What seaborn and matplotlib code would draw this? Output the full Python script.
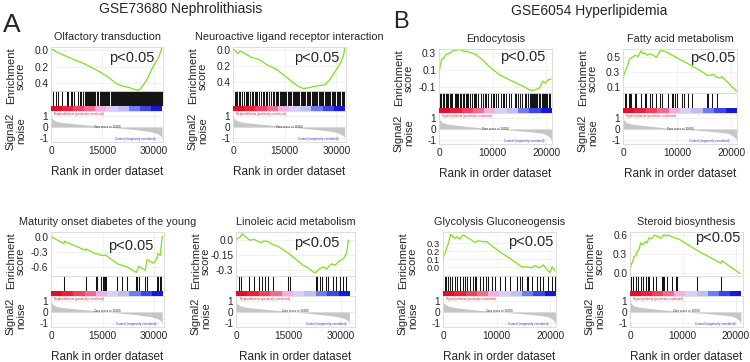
import numpy as np
import matplotlib
matplotlib.use("Agg")
import matplotlib.pyplot as plt
import seaborn as sns
from matplotlib.colors import ListedColormap

# ---------------- data ----------------
# number of genes in each ranked list
n_genes_a = 32400
n_genes_b = 21000

# ranked list metric (signal2noise) outline
metric_rank_a = [0, 300, 700, 1500, 3000, 6000, 10000, 15000, 16000, 20000, 25000, 29000, 31000, 32000, 32400]
metric_val_a = [1.0, 0.8, 0.65, 0.52, 0.42, 0.32, 0.2, 0.05, 0.0, -0.1, -0.25, -0.42, -0.6, -0.8, -1.0]
metric_rank_b = [0, 200, 500, 1000, 2000, 4000, 7000, 10400, 14000, 17000, 19500, 20300, 20800, 21000]
metric_val_b = [1.0, 0.8, 0.65, 0.52, 0.42, 0.3, 0.15, 0.0, -0.12, -0.25, -0.4, -0.6, -0.85, -1.0]

# Olfactory transduction (GSE73680)
olf_rank = [0, 2000, 4550, 7000, 9400, 11800, 14250, 16700, 19100, 21000, 23000, 25000, 26000, 27900, 29800, 31500, 32400]
olf_es = [0.02, -0.03, -0.076, -0.12, -0.16, -0.21, -0.265, -0.33, -0.41, -0.44, -0.46, -0.49, -0.48, -0.37, -0.2, -0.08, 0.03]
olf_hits = [675, 1350, 1930, 3280, 4530, 5010, 5780, 6170, 6750, 7900, 8390, 8870, 9350, 9830,
            10300, 10600, 10800, 11200, 11500, 11700, 12100, 12400, 12600, 12900, 13300, 13500, 13800,
            14200, 14400, 14700, 15000, 15300, 15500, 15900, 16200, 16400, 16700, 17000, 17400, 17600,
            17900, 18200, 18500, 18800, 19000, 19300, 19700, 19900, 20200, 20500, 20800, 21100, 21300,
            21600, 21900, 22200, 22500, 22700, 23000, 23300, 23600, 23900, 24100, 24400, 24700, 25000,
            25300, 25500, 25800, 26100, 26400, 26700, 26900, 27200, 27500, 27800, 28100, 28300, 28600,
            28900, 29200, 29500, 29700, 30000, 30300, 30600, 30900, 31100, 31400, 31700, 32000, 32300]

# Neuroactive ligand receptor interaction (GSE73680)
neu_rank = [0, 970, 1460, 2140, 3410, 5360, 7790, 9740, 12660, 15580, 18500, 20450, 21910, 22890,
            23860, 25330, 26790, 28250, 29710, 31170, 32140, 32400]
neu_es = [0.02, -0.02, -0.04, -0.01, -0.04, -0.09, -0.12, -0.18, -0.24, -0.34, -0.44, -0.48, -0.47,
          -0.46, -0.45, -0.44, -0.43, -0.36, -0.26, -0.16, -0.06, 0.02]
neu_hits = [490, 980, 1270, 1760, 2160, 2740, 3140, 3630, 3920, 4410, 4900, 5390, 5680, 6370, 6660,
            7060, 7640, 8130, 8620, 9020, 9600, 10000, 10580, 11070, 11560, 11960, 12450,
            12800, 13100, 13500, 13800, 14200, 14500, 14800, 15200, 15500, 15900, 16200, 16600, 16900,
            17300, 17600, 17900, 18300, 18600, 19000, 19300, 19700, 20000, 20300, 20700, 21000, 21400,
            21700, 22100, 22400, 22800, 23100, 23500, 23800, 24200, 24500, 24900, 25200, 25500, 25900,
            26200, 26600, 26900, 27300, 27600, 28000, 28300, 28700, 29000, 29400, 29700, 30100, 30400,
            30800, 31100, 31500, 31800, 32200]

# Maturity onset diabetes of the young (GSE73680)
mod_rank = [0, 3800, 3900, 10100, 10200, 13000, 13500, 14600, 15900, 19300, 20500, 22000, 24850,
            25600, 27400, 28000, 29800, 30800, 31100, 31800, 32100, 32400]
mod_es = [0.0, -0.14, -0.09, -0.27, -0.24, -0.34, -0.33, -0.37, -0.36, -0.53, -0.56, -0.59, -0.70,
          -0.58, -0.66, -0.45, -0.52, -0.44, -0.33, -0.37, -0.18, 0.0]
mod_hits = [3860, 10130, 13020, 13500, 14660, 15140, 15430, 15720, 15910, 19290, 20540, 21990,
            24880, 25170, 25560, 27490, 27970, 30860, 31150, 31830, 32110]

# Linoleic acid metabolism (GSE73680)
lin_rank = [0, 480, 1200, 1730, 2500, 3800, 4310, 5270, 6000, 7190, 8150, 9100, 10540, 11980, 15340,
            19170, 20130, 22520, 23960, 24920, 25880, 27320, 28270, 29710, 30670, 31150, 31630, 32110]
lin_es = [-0.01, 0.016, 0.03, 0.063, 0.04, 0.0, 0.0, 0.006, -0.01, -0.025, -0.01, -0.016, -0.047,
          -0.063, -0.142, -0.253, -0.269, -0.33, -0.285, -0.269, -0.29, -0.237, -0.253, -0.205,
          -0.19, -0.158, -0.126, 0.0]
lin_hits = [960, 1440, 3830, 5270, 6710, 7480, 8150, 9100, 10540, 14860, 15340, 22810, 23190, 23960,
            24440, 25690, 26360, 27800, 28560, 29710, 30670, 31440]

# Endocytosis (GSE6054)
endo_rank = [0, 60, 250, 500, 940, 1250, 1875, 2500, 3750, 4690, 5625, 6875, 8125, 9375, 11250,
             13125, 15000, 16250, 17190, 18125, 18750, 19375, 19875, 20300, 20940]
endo_es = [0.025, 0.084, 0.16, 0.22, 0.24, 0.28, 0.29, 0.32, 0.34, 0.32, 0.31, 0.28, 0.22, 0.14,
           0.045, -0.014, -0.07, -0.11, -0.14, -0.13, -0.11, -0.033, -0.053, -0.02, -0.006]
endo_hits = [190, 440, 820, 1000, 1260, 1500, 1700, 2080, 2300, 2520, 2960, 3100, 3340, 3590, 3970,
             4200, 4410, 4730, 5040, 5300, 5480, 5860, 6110, 6490, 6700, 6930, 7250, 7880, 8190,
             8500, 8820, 9140, 9770, 10000, 10270, 10710, 11030, 11530, 11970, 12200, 12600, 13040,
             13420, 14180, 14400, 14680, 15120, 15560, 16070, 16300, 16570, 17010, 17150, 17330,
             17640, 17800, 17960, 18100, 18270, 18590, 18750, 18900, 19220, 19400, 19530, 19850,
             20000, 20160, 20480, 20650, 20790]

# Fatty acid metabolism (GSE6054)
fat_rank = [0, 190, 510, 830, 1140, 1460, 1900, 2290, 2730, 3050, 3370, 3680, 4000, 4450, 4950,
            5590, 6220, 6540, 6860, 7490, 8130, 13840, 15750, 16700, 17340, 17970, 18290, 21000]
fat_es = [0.21, 0.27, 0.33, 0.38, 0.47, 0.49, 0.51, 0.53, 0.51, 0.55, 0.59, 0.55, 0.56, 0.53, 0.55,
          0.53, 0.50, 0.55, 0.59, 0.59, 0.57, 0.34, 0.25, 0.27, 0.23, 0.22, 0.24, 0.04]
fat_hits = [310, 620, 1050, 1360, 1550, 2170, 2480, 3410, 4030, 4340, 4960, 5460, 6200, 6820, 7130,
            8370, 8990, 9180, 9610, 9920, 10850, 11280, 12090, 12710, 15500, 15810, 16430, 17360]

# Glycolysis Gluconeogensis (GSE6054)
gly_rank = [0, 125, 440, 750, 1060, 1440, 1875, 2250, 2625, 3125, 3500, 3875, 4500, 5310, 5940,
            6560, 7500, 8125, 9060, 10625, 12500, 13750, 14690, 15625, 16560, 17190, 18000, 18750,
            19375, 20000, 20375, 20940]
gly_es = [0.05, 0.14, 0.19, 0.25, 0.31, 0.41, 0.38, 0.36, 0.38, 0.35, 0.39, 0.40, 0.37, 0.34, 0.31,
          0.33, 0.32, 0.32, 0.27, 0.19, 0.11, 0.05, 0.004, 0.004, -0.008, 0.02, -0.008, 0.028,
          -0.028, -0.068, 0.004, -0.048]
gly_hits = [310, 625, 940, 1375, 1750, 2190, 2625, 3125, 3750, 4125, 4560, 5000, 5625, 5940, 6250,
            6875, 7500, 8000, 8440, 9060, 9690, 10625, 11560, 12500, 13750, 14375, 14690, 15625,
            15940, 16560, 17500, 18125, 18750, 19690, 20310, 20940]

# Steroid biosynthesis (GSE6054)
ste_rank = [0, 185, 490, 740, 1110, 1350, 1720, 2030, 2460, 2950, 3260, 3570, 4000, 4610, 5230,
            5840, 6460, 6770, 7380, 8300, 9230, 12920, 17220, 17400, 20790]
ste_es = [0.0, 0.12, 0.17, 0.25, 0.27, 0.34, 0.37, 0.47, 0.44, 0.49, 0.47, 0.55, 0.53, 0.59, 0.57,
          0.54, 0.60, 0.58, 0.59, 0.55, 0.53, 0.34, 0.15, 0.19, -0.01]
ste_hits = [185, 615, 1110, 1600, 2030, 2460, 2950, 3380, 3570, 4430, 4920, 6150, 6280, 6460, 7080,
            8000, 8620, 8920, 12620, 17230]

# ---------------- styling ----------------
W, H = 750, 362
GREEN = "#7de11c"
BAR_COLORS = ["#dc0f2c", "#e8223d", "#ee4263", "#f06b90", "#f2aee2",
              "#d8d0f5", "#bcc0f2", "#6f7cf0", "#3a46e6", "#1818da"]

sns.set_theme(style="white")
plt.rcParams["font.family"] = ["Liberation Sans", "DejaVu Sans"]

fig = plt.figure(figsize=(W / 100, H / 100), dpi=100)


def px_axes(x0, y0, w, h):
    return fig.add_axes([x0 / W, 1 - (y0 + h) / H, w / W, h / H])


def light_frame(ax):
    for s in ax.spines.values():
        s.set_color("#d8d8d8")
        s.set_linewidth(0.6)
    ax.tick_params(length=0, pad=2, labelsize=7.3)


def draw_gsea(x0, x1, ytop, title, es_rank, es_val, hits, m_rank, m_val, n_genes, xmax,
              xticks, es_ticks, es_labels, es_ylim, p_xy, pos_name, es_fs=7.3):
    w = x1 - x0
    h_es, h_hit, h_bar, h_met = 44, 15, 5, 31

    # enrichment score
    ax = px_axes(x0, ytop, w, h_es)
    sns.lineplot(x=es_rank, y=es_val, ax=ax, color=GREEN, lw=0.9)
    ax.set_xlim(0, xmax)
    ax.set_ylim(*es_ylim)
    ax.set_xticks(xticks)
    ax.set_xticklabels([])
    ax.set_yticks(es_ticks)
    ax.set_yticklabels(es_labels)
    ax.grid(True, color="#ececec", lw=0.5)
    light_frame(ax)
    ax.tick_params(axis="y", labelsize=es_fs)
    ax.set_title(title, fontsize=7.8, pad=5)
    ax.text(p_xy[0], p_xy[1], "p<0.05", transform=ax.transAxes, fontsize=10.5,
            ha="center", va="center")

    # hits
    axh = px_axes(x0, ytop + h_es, w, h_hit)
    axh.vlines(hits, 0, 1, color="#151515", lw=0.75)
    axh.set_xlim(0, xmax)
    axh.set_ylim(0, 1)
    axh.set_xticks([])
    axh.set_yticks([])
    light_frame(axh)

    # rank colour bar
    axb = px_axes(x0, ytop + h_es + h_hit, w, h_bar)
    axb.imshow([np.arange(len(BAR_COLORS))], cmap=ListedColormap(BAR_COLORS),
               aspect="auto", extent=[0, n_genes, 0, 1])
    axb.set_xlim(0, xmax)
    axb.set_ylim(0, 1)
    axb.set_xticks([])
    axb.set_yticks([])
    for s in axb.spines.values():
        s.set_visible(False)

    # ranked list metric
    axm = px_axes(x0, ytop + h_es + h_hit + h_bar, w, h_met)
    axm.fill_between(m_rank, m_val, 0, color="#c3c8c6", lw=0)
    axm.set_xlim(0, xmax)
    axm.set_ylim(-1.36, 1.45)
    axm.set_yticks([1, 0, -1])
    axm.set_yticklabels(["1", "0", "-1"])
    axm.set_xticks(xticks)
    axm.set_xticklabels([str(t) for t in xticks])
    axm.grid(True, color="#ececec", lw=0.5)
    light_frame(axm)
    axm.tick_params(axis="x", labelsize=7.3, pad=3)
    axm.set_xlabel("Rank in order dataset", fontsize=8.5, labelpad=7)
    axm.text(0.03, 0.98, pos_name + " (positively correlated)", transform=axm.transAxes,
             fontsize=2.2, color="#e02040", va="top")
    axm.text(0.5, 0.5, "Zero cross at " + str(n_genes // 2), transform=axm.transAxes,
             fontsize=2.2, ha="center", va="center")
    axm.text(0.93, 0.1, "Control (negatively correlated)", transform=axm.transAxes,
             fontsize=2.2, color="#3040e0", ha="right", va="center")

    # side labels
    fig.text((x0 - 35) / W, 1 - (ytop + 29) / H, "Enrichment\nscore", rotation=90,
             ha="center", va="center", fontsize=8, linespacing=1.05)
    fig.text((x0 - 35) / W, 1 - (ytop + 84) / H, "Signal2\nnoise", rotation=90,
             ha="center", va="center", fontsize=8, linespacing=1.05)


ticks_a = [0, 15000, 30000]
ticks_b = [0, 10000, 20000]

draw_gsea(51, 163, 47, "Olfactory transduction", olf_rank, olf_es, olf_hits,
          metric_rank_a, metric_val_a, n_genes_a, 32700, ticks_a,
          [0, -0.2, -0.4], ["0.0", "0.2", "0.4"], (-0.5, 0.04), (0.72, 0.74), "Nephrolithiasis")
draw_gsea(233, 346, 47, "Neuroactive ligand receptor interaction", neu_rank, neu_es, neu_hits,
          metric_rank_a, metric_val_a, n_genes_a, 32800, ticks_a,
          [0, -0.2, -0.4], ["0.0", "0.2", "0.4"], (-0.51, 0.04), (0.74, 0.74), "Nephrolithiasis")
draw_gsea(51, 164, 232, "Maturity onset diabetes of the young", mod_rank, mod_es, mod_hits,
          metric_rank_a, metric_val_a, n_genes_a, 32900, ticks_a,
          [0, -0.3, -0.6], ["0.0", "-0.3", "-0.6"], (-0.77, 0.09), (0.71, 0.68), "Nephrolithiasis")
draw_gsea(236, 355, 232, "Linoleic acid metabolism", lin_rank, lin_es, lin_hits,
          metric_rank_a, metric_val_a, n_genes_a, 34000, ticks_a,
          [0, -0.15, -0.3], ["0.0", "-0.15", "-0.3"], (-0.36, 0.08), (0.68, 0.75), "Nephrolithiasis")

draw_gsea(439, 552, 49, "Endocytosis", endo_rank, endo_es, endo_hits,
          metric_rank_b, metric_val_b, n_genes_b, 21100, ticks_b,
          [0.3, 0.1, -0.1], ["0.3", "0.1", "-0.1"], (-0.17, 0.345), (0.74, 0.82), "Hyperlipidemia")
draw_gsea(623, 737, 49, "Fatty acid metabolism", fat_rank, fat_es, fat_hits,
          metric_rank_b, metric_val_b, n_genes_b, 21100, ticks_b,
          [0.5, 0.3, 0.1], ["0.5", "0.3", "0.1"], (0.015, 0.615), (0.79, 0.8), "Hyperlipidemia")
draw_gsea(443, 556, 232, "Glycolysis Gluconeogensis", gly_rank, gly_es, gly_hits,
          metric_rank_b, metric_val_b, n_genes_b, 21100, ticks_b,
          [0.3, 0.2, 0.1, 0.0], ["0.3", "0.2", "0.1", "0.0"], (-0.11, 0.44), (0.78, 0.78),
          "Hyperlipidemia", es_fs=6.8)
draw_gsea(630, 743, 232, "Steroid biosynthesis", ste_rank, ste_es, ste_hits,
          metric_rank_b, metric_val_b, n_genes_b, 21400, ticks_b,
          [0.6, 0.3, 0.0], ["0.6", "0.3", "0.0"], (-0.05, 0.64), (0.78, 0.86), "Hyperlipidemia")

# panel letters and headings
fig.text(3 / W, 1 - 32 / H, "A", fontsize=19, va="baseline")
fig.text(393 / W, 1 - 28 / H, "B", fontsize=17, va="baseline")
fig.text(181 / W, 1 - 13.5 / H, "GSE73680 Nephrolithiasis", fontsize=10, ha="center", va="baseline")
fig.text(589 / W, 1 - 15 / H, "GSE6054 Hyperlipidemia", fontsize=10, ha="center", va="baseline")

fig.savefig("out.png", dpi=100)
